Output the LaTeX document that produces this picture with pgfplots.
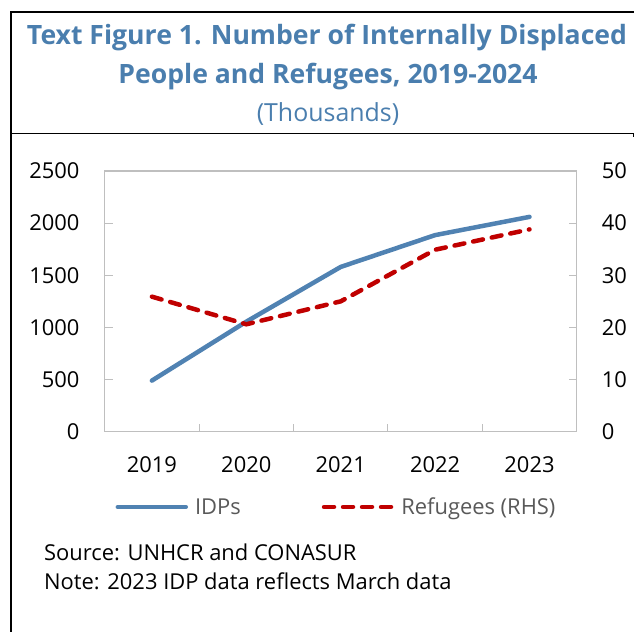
\documentclass[border=0pt]{standalone}
\usepackage{pgfplots}
\pgfplotsset{compat=1.18}
\usepackage{fontspec}
\setmainfont{Open Sans}
\definecolor{titleblue}{RGB}{74,126,174}
\definecolor{idpblue}{RGB}{80,130,178}
\definecolor{refred}{RGB}{192,0,0}
\definecolor{axgray}{RGB}{191,191,191}
\definecolor{leggray}{RGB}{89,89,89}
\begin{document}
\begin{tikzpicture}[x=1bp,y=1bp]
\useasboundingbox (0,0) rectangle (634,632);
\draw[line width=1.5bp] (11,0) -- (11,620) -- (634,620);
\draw[line width=1bp] (11,498.7) -- (634,498.7);
\draw[line width=1bp] (633,498.7) -- (633,495);
\node[anchor=base, inner sep=0pt, font=\bfseries\fontsize{26.7}{27}\selectfont, text=titleblue] at (327,587) {Text Figure 1. Number of Internally Displaced};
\node[anchor=base, inner sep=0pt, font=\bfseries\fontsize{26.7}{27}\selectfont, text=titleblue] at (328,548) {People and Refugees, 2019-2024};
\node[anchor=base, inner sep=0pt, font=\fontsize{25}{25}\selectfont, text=titleblue] at (328,510) {(Thousands)};
\node[anchor=base west, inner sep=0pt, font=\fontsize{22}{22}\selectfont] at (44,71) {Source: UNHCR and CONASUR};
\node[anchor=base west, inner sep=0pt, font=\fontsize{22}{22}\selectfont] at (44,42) {Note: 2023 IDP data reflects March data};
\begin{axis}[
  at={(104.7bp,200.3bp)}, anchor=origin,
  width=472bp, height=260.7bp, scale only axis,
  xmin=0, xmax=5, ymin=0, ymax=2500,
  xtick={0.5,1.5,2.5,3.5,4.5}, xticklabels={2019,2020,2021,2022,2023},
  minor xtick={1,2,3,4},
  ytick={0,500,...,2500},
  xtick pos=bottom, ytick pos=left,
  tick align=inside,
  major x tick style={draw=none},
  minor tick length=8bp, major tick length=8bp,
  tick style={axgray, line width=1bp},
  axis line style={axgray, line width=1.2bp},
  tick label style={font=\fontsize{22}{22}\selectfont, inner sep=0pt},
  yticklabel style={xshift=-25bp},
  xticklabel style={yshift=-25bp},
  /pgf/number format/1000 sep={},
  /pgf/number format/assume math mode=true,
  clip=false,
]
\addplot[idpblue, line width=4.5bp, line cap=round, line join=round] coordinates {(0.5,490) (1.5,1055) (2.5,1580) (3.5,1885) (4.5,2060)};
\end{axis}
\begin{axis}[
  at={(104.7bp,200.3bp)}, anchor=origin,
  width=472bp, height=260.7bp, scale only axis,
  xmin=0, xmax=5, ymin=0, ymax=50,
  xtick=\empty,
  axis x line=none, axis y line*=right,
  ytick={0,10,...,50},
  tick align=inside,
  major tick length=8bp,
  tick style={axgray, line width=1bp},
  axis line style={axgray, line width=1.2bp, -},
  tick label style={font=\fontsize{22}{22}\selectfont, inner sep=0pt},
  yticklabel style={xshift=25bp},
  /pgf/number format/assume math mode=true,
  clip=false,
  legend columns=2,
  legend style={draw=none, fill=none, at={(0.489,-0.2888)}, anchor=center,
    font=\fontsize{22}{22}\selectfont, text=leggray,
    nodes={inner sep=0pt},
    /tikz/every odd column/.append style={column sep=7bp},
    /tikz/every even column/.append style={column sep=81bp}},
  legend image code/.code={\draw[#1] (0bp,0bp) -- (68bp,0bp);},
]
\addlegendimage{idpblue, line width=4.5bp, line cap=round}
\addlegendentry{IDPs}
\addplot[refred, line width=4.5bp, line cap=round, dash pattern=on 10bp off 9bp] coordinates {(0.5,25.9) (1.5,20.6) (2.5,25.0) (3.5,34.9) (4.5,38.8)};
\addlegendentry{Refugees (RHS)}
\end{axis}
\end{tikzpicture}
\end{document}
